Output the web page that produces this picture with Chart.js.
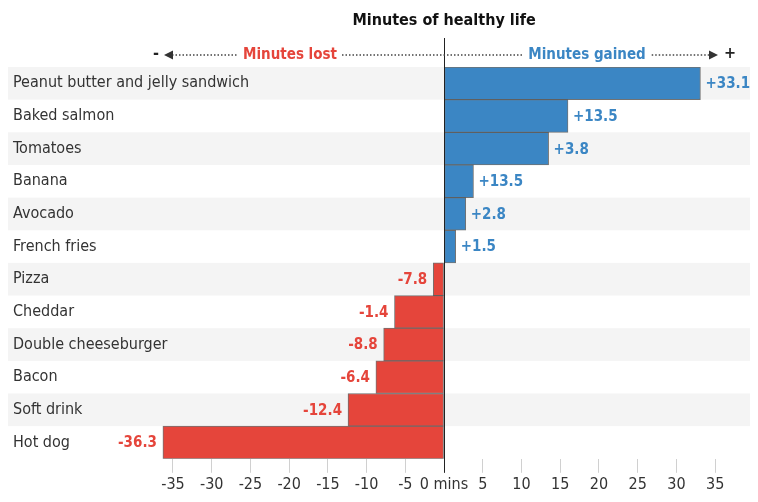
<!DOCTYPE html>
<html>
<head>
<meta charset="utf-8">
<script src="https://cdn.jsdelivr.net/npm/chart.js@4/dist/chart.umd.min.js"></script>
<style>
  html, body { margin: 0; padding: 0; background: #fff; }
  #wrap { width: 758px; height: 502px; }
</style>
</head>
<body>
<div id="wrap"><canvas id="chart"></canvas></div>
<script>
  // data
  const foods = ["Peanut butter and jelly sandwich", "Baked salmon", "Tomatoes", "Banana", "Avocado",
    "French fries", "Pizza", "Cheddar", "Double cheeseburger", "Bacon", "Soft drink", "Hot dog"];
  const barValues = [33.1, 16.0, 13.5, 3.8, 2.8, 1.5, -1.4, -6.4, -7.8, -8.8, -12.4, -36.3];
  const valueLabels = ["+33.1", "+13.5", "+3.8", "+13.5", "+2.8", "+1.5", "-7.8", "-1.4", "-8.8", "-6.4", "-12.4", "-36.3"];
  const xTicks = [-35, -30, -25, -20, -15, -10, -5, 0, 5, 10, 15, 20, 25, 30, 35];

  const BLUE = "#3b86c4";
  const RED = "#e5453b";
  const FONT = "'Liberation Sans Narrow', 'DejaVu Sans Condensed', 'Roboto', sans-serif";

  /* ===== plugin: bands, labels, header ===== */
  const decor = {
    id: "decor",
    beforeDatasetsDraw(chart) {
      const { ctx, chartArea, scales } = chart;
      const y = scales.y;
      ctx.save();
      const h = y.getPixelForValue(1) - y.getPixelForValue(0);
      foods.forEach((f, i) => {
        const c = y.getPixelForValue(i);
        if (i % 2 === 0) {
          ctx.fillStyle = "#f4f4f4";
          ctx.fillRect(chartArea.left, c - h / 2, chartArea.right - chartArea.left, h);
        }
      });
      ctx.restore();
    },
    afterDatasetsDraw(chart) {
      const { ctx, chartArea, scales } = chart;
      const x = scales.x, y = scales.y;
      const x0 = x.getPixelForValue(0);
      ctx.save();

      // category labels
      ctx.font = "16px " + FONT;
      ctx.fillStyle = "#333";
      ctx.textBaseline = "middle";
      ctx.textAlign = "left";
      foods.forEach((f, i) => ctx.fillText(f, chartArea.left + 5, y.getPixelForValue(i)));

      // value labels
      ctx.font = "bold 15px " + FONT;
      barValues.forEach((v, i) => {
        const px = x.getPixelForValue(v);
        const py = y.getPixelForValue(i);
        if (v >= 0) {
          ctx.fillStyle = BLUE;
          ctx.textAlign = "left";
          ctx.fillText(valueLabels[i], px + 5, py + 1);
        } else {
          ctx.fillStyle = RED;
          ctx.textAlign = "right";
          ctx.fillText(valueLabels[i], px - 6, py + 1);
        }
      });

      // zero line
      ctx.strokeStyle = "#222";
      ctx.lineWidth = 1;
      ctx.beginPath();
      ctx.moveTo(Math.round(x0) + 0.5, 38);
      ctx.lineTo(Math.round(x0) + 0.5, chartArea.bottom + 14);
      ctx.stroke();

      // title
      ctx.fillStyle = "#111";
      ctx.font = "bold 16px " + FONT;
      ctx.textAlign = "center";
      ctx.fillText("Minutes of healthy life", x0, 21);

      // header with dotted arrows
      const hy = 55;
      ctx.font = "bold 15px " + FONT;
      const wLost = ctx.measureText("Minutes lost").width;
      const wGain = ctx.measureText("Minutes gained").width;
      const cLost = 290, cGain = 587;
      ctx.fillStyle = RED;
      ctx.fillText("Minutes lost", cLost, hy);
      ctx.fillStyle = BLUE;
      ctx.fillText("Minutes gained", cGain, hy);
      ctx.fillStyle = "#222";
      ctx.font = "bold 16px " + FONT;
      ctx.fillText("-", 156, hy - 1);
      ctx.fillText("+", 730, hy - 1);

      ctx.strokeStyle = "#444";
      ctx.setLineDash([1.5, 2]);
      ctx.lineWidth = 1.5;
      [[172, cLost - wLost / 2 - 5], [cLost + wLost / 2 + 5, cGain - wGain / 2 - 6],
       [cGain + wGain / 2 + 6, 710]].forEach(s => {
        ctx.beginPath();
        ctx.moveTo(s[0], hy);
        ctx.lineTo(s[1], hy);
        ctx.stroke();
      });
      ctx.setLineDash([]);
      ctx.fillStyle = "#333";
      ctx.beginPath();
      ctx.moveTo(164, hy); ctx.lineTo(173, hy - 4.5); ctx.lineTo(173, hy + 4.5); ctx.closePath(); ctx.fill();
      ctx.beginPath();
      ctx.moveTo(718, hy); ctx.lineTo(709, hy - 4.5); ctx.lineTo(709, hy + 4.5); ctx.closePath(); ctx.fill();

      ctx.restore();
    }
  };

  new Chart(document.getElementById("chart"), {
    type: "bar",
    data: {
      labels: foods,
      datasets: [{
        data: barValues,
        backgroundColor: barValues.map(v => v >= 0 ? BLUE : RED),
        borderColor: "rgba(70,70,70,0.75)",
        borderWidth: 1,
        borderSkipped: false,
        categoryPercentage: 1,
        barPercentage: 1
      }]
    },
    options: {
      indexAxis: "y",
      responsive: true,
      maintainAspectRatio: false,
      animation: false,
      devicePixelRatio: 1,
      layout: { padding: { top: 67, left: 8, right: 8, bottom: 6 } },
      plugins: { legend: { display: false }, tooltip: { enabled: false } },
      scales: {
        x: {
          min: -56.3,
          max: 39.5,
          afterBuildTicks: s => { s.ticks = xTicks.map(v => ({ value: v })); },
          grid: { drawOnChartArea: false, drawTicks: true, tickLength: 14, color: "#d0d0d0", tickColor: "#d0d0d0" },
          border: { display: false },
          ticks: {
            autoSkip: false,
            maxRotation: 0,
            padding: 2,
            color: "#333",
            font: { size: 16, family: FONT },
            callback: v => v === 0 ? "0 mins" : String(v)
          }
        },
        y: {
          display: false
        }
      }
    },
    plugins: [decor]
  });
</script>
</body>
</html>
